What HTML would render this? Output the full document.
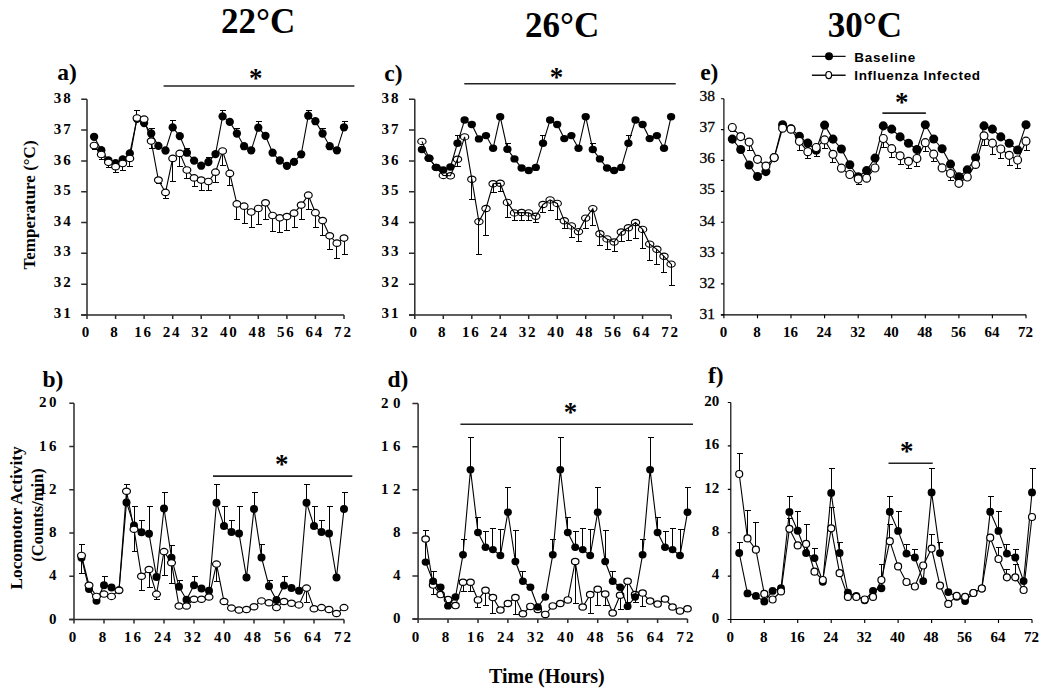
<!DOCTYPE html>
<html><head><meta charset="utf-8"><title>Figure</title>
<style>html,body{margin:0;padding:0;background:#fff;} svg{display:block;}</style></head>
<body><svg width="1050" height="693" viewBox="0 0 1050 693">
<rect width="1050" height="693" fill="#fff"/>
<g stroke="#2b2b2b" stroke-width="1.5" fill="none">
<path d="M87,99.2V315M81.2,315H344"/>
<path d="M81.2,99.2H87M81.2,130H87M81.2,160.9H87M81.2,191.7H87M81.2,222.5H87M81.2,253.3H87M81.2,284.2H87M81.2,315H87M87,315v4M115.6,315v4M144.1,315v4M172.7,315v4M201.2,315v4M229.8,315v4M258.3,315v4M286.9,315v4M315.4,315v4M344,315v4"/>
</g>
<path d="M136.5,118.8V110.5M133.5,110.5H139.5M151.5,133.5V128.5M148.5,128.5H154.5M172.5,127.4V120.5M169.5,120.5H175.5M186.5,152.7V148.5M183.5,148.5H189.5M208.5,162V157.5M205.5,157.5H211.5M222.5,116.4V110.5M219.5,110.5H225.5M236.5,133.5V128.5M233.5,128.5H239.5M258.5,127.7V121.5M255.5,121.5H261.5M308.5,115.7V110.5M305.5,110.5H311.5M322.5,133.5V128.5M319.5,128.5H325.5M344.5,127.3V121.5M341.5,121.5H347.5M94.5,145.5V149.5M91.5,149.5H97.5M101.5,154.5V159.5M98.5,159.5H104.5M108.5,162.3V167.5M105.5,167.5H111.5M115.5,166.7V172.5M112.5,172.5H118.5M122.5,163.5V170.5M119.5,170.5H125.5M129.5,158.4V166.5M126.5,166.5H132.5M151.5,141.1V148.5M148.5,148.5H154.5M158.5,180.1V183.5M155.5,183.5H161.5M165.5,192.4V198.5M162.5,198.5H168.5M172.5,158.4V181.5M169.5,181.5H175.5M179.5,153.4V166.5M176.5,166.5H182.5M186.5,170V178.5M183.5,178.5H189.5M194.5,177.9V186.5M191.5,186.5H197.5M201.5,180.1V190.5M198.5,190.5H204.5M208.5,181.5V190.5M205.5,190.5H211.5M215.5,172.2V182.5M212.5,182.5H218.5M222.5,151V165.5M219.5,165.5H225.5M229.5,173.4V185.5M226.5,185.5H232.5M236.5,203.9V219.5M233.5,219.5H239.5M244.5,206.2V223.5M241.5,223.5H247.5M251.5,212V227.5M248.5,227.5H254.5M258.5,208.5V224.5M255.5,224.5H261.5M265.5,202.8V219.5M262.5,219.5H268.5M272.5,215.5V231.5M269.5,231.5H275.5M279.5,217.8V232.5M276.5,232.5H282.5M286.5,216.6V230.5M283.5,230.5H289.5M294.5,213.2V227.5M291.5,227.5H297.5M301.5,205.1V219.5M298.5,219.5H304.5M308.5,195.2V209.5M305.5,209.5H311.5M315.5,212.7V227.5M312.5,227.5H318.5M322.5,220.6V235.5M319.5,235.5H325.5M329.5,235.8V249.5M326.5,249.5H332.5M336.5,243.2V258.5M333.5,258.5H339.5M344.5,238.1V254.5M341.5,254.5H347.5" stroke="#000" stroke-width="1" fill="none" shape-rendering="crispEdges"/>
<polyline points="94.1,136.8 101.3,150.2 108.4,160.3 115.6,163.2 122.7,159.5 129.8,153.4 137,118.8 144.1,123.1 151.2,133.5 158.4,145.9 165.5,150.5 172.7,127.4 179.8,136.1 186.9,152.7 194.1,160.6 201.2,165.7 208.4,162 215.5,154.1 222.6,116.4 229.8,121.9 236.9,133.5 244.1,146.2 251.2,150.3 258.3,127.7 265.5,135.8 272.6,152.7 279.8,160.5 286.9,165.8 294,161.9 301.2,154.3 308.3,115.7 315.4,121.2 322.6,133.5 329.7,146.2 336.9,150.3 344,127.3" stroke="#000" stroke-width="1.1" fill="none"/>
<g fill="#000"><ellipse cx="94.1" cy="136.8" rx="4.15" ry="4.15"/><ellipse cx="101.3" cy="150.2" rx="4.15" ry="4.15"/><ellipse cx="108.4" cy="160.3" rx="4.15" ry="4.15"/><ellipse cx="115.6" cy="163.2" rx="4.15" ry="4.15"/><ellipse cx="122.7" cy="159.5" rx="4.15" ry="4.15"/><ellipse cx="129.8" cy="153.4" rx="4.15" ry="4.15"/><ellipse cx="137" cy="118.8" rx="4.15" ry="4.15"/><ellipse cx="144.1" cy="123.1" rx="4.15" ry="4.15"/><ellipse cx="151.2" cy="133.5" rx="4.15" ry="4.15"/><ellipse cx="158.4" cy="145.9" rx="4.15" ry="4.15"/><ellipse cx="165.5" cy="150.5" rx="4.15" ry="4.15"/><ellipse cx="172.7" cy="127.4" rx="4.15" ry="4.15"/><ellipse cx="179.8" cy="136.1" rx="4.15" ry="4.15"/><ellipse cx="186.9" cy="152.7" rx="4.15" ry="4.15"/><ellipse cx="194.1" cy="160.6" rx="4.15" ry="4.15"/><ellipse cx="201.2" cy="165.7" rx="4.15" ry="4.15"/><ellipse cx="208.4" cy="162" rx="4.15" ry="4.15"/><ellipse cx="215.5" cy="154.1" rx="4.15" ry="4.15"/><ellipse cx="222.6" cy="116.4" rx="4.15" ry="4.15"/><ellipse cx="229.8" cy="121.9" rx="4.15" ry="4.15"/><ellipse cx="236.9" cy="133.5" rx="4.15" ry="4.15"/><ellipse cx="244.1" cy="146.2" rx="4.15" ry="4.15"/><ellipse cx="251.2" cy="150.3" rx="4.15" ry="4.15"/><ellipse cx="258.3" cy="127.7" rx="4.15" ry="4.15"/><ellipse cx="265.5" cy="135.8" rx="4.15" ry="4.15"/><ellipse cx="272.6" cy="152.7" rx="4.15" ry="4.15"/><ellipse cx="279.8" cy="160.5" rx="4.15" ry="4.15"/><ellipse cx="286.9" cy="165.8" rx="4.15" ry="4.15"/><ellipse cx="294" cy="161.9" rx="4.15" ry="4.15"/><ellipse cx="301.2" cy="154.3" rx="4.15" ry="4.15"/><ellipse cx="308.3" cy="115.7" rx="4.15" ry="4.15"/><ellipse cx="315.4" cy="121.2" rx="4.15" ry="4.15"/><ellipse cx="322.6" cy="133.5" rx="4.15" ry="4.15"/><ellipse cx="329.7" cy="146.2" rx="4.15" ry="4.15"/><ellipse cx="336.9" cy="150.3" rx="4.15" ry="4.15"/><ellipse cx="344" cy="127.3" rx="4.15" ry="4.15"/></g>
<polyline points="94.1,145.5 101.3,154.5 108.4,162.3 115.6,166.7 122.7,163.5 129.8,158.4 137,118 144.1,119.2 151.2,141.1 158.4,180.1 165.5,192.4 172.7,158.4 179.8,153.4 186.9,170 194.1,177.9 201.2,180.1 208.4,181.5 215.5,172.2 222.6,151 229.8,173.4 236.9,203.9 244.1,206.2 251.2,212 258.3,208.5 265.5,202.8 272.6,215.5 279.8,217.8 286.9,216.6 294,213.2 301.2,205.1 308.3,195.2 315.4,212.7 322.6,220.6 329.7,235.8 336.9,243.2 344,238.1" stroke="#000" stroke-width="1.1" fill="none"/>
<g fill="#fff" stroke="#000" stroke-width="1.2"><ellipse cx="94.1" cy="145.5" rx="3.9" ry="3.25"/><ellipse cx="101.3" cy="154.5" rx="3.9" ry="3.25"/><ellipse cx="108.4" cy="162.3" rx="3.9" ry="3.25"/><ellipse cx="115.6" cy="166.7" rx="3.9" ry="3.25"/><ellipse cx="122.7" cy="163.5" rx="3.9" ry="3.25"/><ellipse cx="129.8" cy="158.4" rx="3.9" ry="3.25"/><ellipse cx="137" cy="118" rx="3.9" ry="3.25"/><ellipse cx="144.1" cy="119.2" rx="3.9" ry="3.25"/><ellipse cx="151.2" cy="141.1" rx="3.9" ry="3.25"/><ellipse cx="158.4" cy="180.1" rx="3.9" ry="3.25"/><ellipse cx="165.5" cy="192.4" rx="3.9" ry="3.25"/><ellipse cx="172.7" cy="158.4" rx="3.9" ry="3.25"/><ellipse cx="179.8" cy="153.4" rx="3.9" ry="3.25"/><ellipse cx="186.9" cy="170" rx="3.9" ry="3.25"/><ellipse cx="194.1" cy="177.9" rx="3.9" ry="3.25"/><ellipse cx="201.2" cy="180.1" rx="3.9" ry="3.25"/><ellipse cx="208.4" cy="181.5" rx="3.9" ry="3.25"/><ellipse cx="215.5" cy="172.2" rx="3.9" ry="3.25"/><ellipse cx="222.6" cy="151" rx="3.9" ry="3.25"/><ellipse cx="229.8" cy="173.4" rx="3.9" ry="3.25"/><ellipse cx="236.9" cy="203.9" rx="3.9" ry="3.25"/><ellipse cx="244.1" cy="206.2" rx="3.9" ry="3.25"/><ellipse cx="251.2" cy="212" rx="3.9" ry="3.25"/><ellipse cx="258.3" cy="208.5" rx="3.9" ry="3.25"/><ellipse cx="265.5" cy="202.8" rx="3.9" ry="3.25"/><ellipse cx="272.6" cy="215.5" rx="3.9" ry="3.25"/><ellipse cx="279.8" cy="217.8" rx="3.9" ry="3.25"/><ellipse cx="286.9" cy="216.6" rx="3.9" ry="3.25"/><ellipse cx="294" cy="213.2" rx="3.9" ry="3.25"/><ellipse cx="301.2" cy="205.1" rx="3.9" ry="3.25"/><ellipse cx="308.3" cy="195.2" rx="3.9" ry="3.25"/><ellipse cx="315.4" cy="212.7" rx="3.9" ry="3.25"/><ellipse cx="322.6" cy="220.6" rx="3.9" ry="3.25"/><ellipse cx="329.7" cy="235.8" rx="3.9" ry="3.25"/><ellipse cx="336.9" cy="243.2" rx="3.9" ry="3.25"/><ellipse cx="344" cy="238.1" rx="3.9" ry="3.25"/></g>
<g stroke="#2b2b2b" stroke-width="1.5" fill="none">
<path d="M414.8,99.2V315M409,315H671.1"/>
<path d="M409,99.2H414.8M409,130H414.8M409,160.9H414.8M409,191.7H414.8M409,222.5H414.8M409,253.3H414.8M409,284.2H414.8M409,315H414.8M414.8,315v4M443.3,315v4M471.8,315v4M500.2,315v4M528.7,315v4M557.2,315v4M585.7,315v4M614.1,315v4M642.6,315v4M671.1,315v4"/>
</g>
<path d="M457.5,143.2V135.5M454.5,135.5H460.5M542.5,143.2V135.5M539.5,135.5H545.5M628.5,143.2V135.5M625.5,135.5H631.5M507.5,149.2V143.5M504.5,143.5H510.5M592.5,149.5V143.5M589.5,143.5H595.5M457.5,159.2V166.5M454.5,166.5H460.5M471.5,179.2V199.5M468.5,199.5H474.5M478.5,221.6V254.5M475.5,254.5H481.5M485.5,208.5V235.5M482.5,235.5H488.5M493.5,183.8V192.5M490.5,192.5H496.5M500.5,183.2V191.5M497.5,191.5H503.5M507.5,202.4V217.5M504.5,217.5H510.5M514.5,212.9V220.5M511.5,220.5H517.5M521.5,212.5V220.5M518.5,220.5H524.5M528.5,212.9V220.5M525.5,220.5H531.5M535.5,216.2V222.5M532.5,222.5H538.5M542.5,204.5V212.5M539.5,212.5H545.5M550.5,199.9V210.5M547.5,210.5H553.5M557.5,203.4V219.5M554.5,219.5H560.5M564.5,220.7V228.5M561.5,228.5H567.5M571.5,225.9V237.5M568.5,237.5H574.5M578.5,231.6V241.5M575.5,241.5H581.5M585.5,218.1V228.5M582.5,228.5H588.5M592.5,208.6V225.5M589.5,225.5H595.5M599.5,233.7V245.5M596.5,245.5H602.5M607.5,238.9V249.5M604.5,249.5H610.5M614.5,242V251.5M611.5,251.5H617.5M621.5,232V241.5M618.5,241.5H624.5M628.5,227.7V240.5M625.5,240.5H631.5M635.5,222.5V238.5M632.5,238.5H638.5M642.5,229.4V248.5M639.5,248.5H645.5M649.5,244.1V260.5M646.5,260.5H652.5M656.5,249.3V264.5M653.5,264.5H659.5M663.5,256.3V272.5M660.5,272.5H666.5M671.5,264.1V285.5M668.5,285.5H674.5" stroke="#000" stroke-width="1" fill="none" shape-rendering="crispEdges"/>
<polyline points="421.9,141.4 429,158.3 436.2,167.4 443.3,175.4 450.4,175.8 457.5,159.2 464.6,136.9 471.8,179.2 478.9,221.6 486,208.5 493.1,183.8 500.2,183.2 507.4,202.4 514.5,212.9 521.6,212.5 528.7,212.9 535.8,216.2 543,204.5 550.1,199.9 557.2,203.4 564.3,220.7 571.4,225.9 578.5,231.6 585.7,218.1 592.8,208.6 599.9,233.7 607,238.9 614.1,242 621.3,232 628.4,227.7 635.5,222.5 642.6,229.4 649.7,244.1 656.9,249.3 664,256.3 671.1,264.1" stroke="#000" stroke-width="1.1" fill="none"/>
<g fill="none" stroke="#000" stroke-width="1.15"><ellipse cx="421.9" cy="141.4" rx="4.15" ry="3.15"/><ellipse cx="429" cy="158.3" rx="4.15" ry="3.15"/><ellipse cx="436.2" cy="167.4" rx="4.15" ry="3.15"/><ellipse cx="443.3" cy="175.4" rx="4.15" ry="3.15"/><ellipse cx="450.4" cy="175.8" rx="4.15" ry="3.15"/><ellipse cx="457.5" cy="159.2" rx="4.15" ry="3.15"/><ellipse cx="464.6" cy="136.9" rx="4.15" ry="3.15"/><ellipse cx="471.8" cy="179.2" rx="4.15" ry="3.15"/><ellipse cx="478.9" cy="221.6" rx="4.15" ry="3.15"/><ellipse cx="486" cy="208.5" rx="4.15" ry="3.15"/><ellipse cx="493.1" cy="183.8" rx="4.15" ry="3.15"/><ellipse cx="500.2" cy="183.2" rx="4.15" ry="3.15"/><ellipse cx="507.4" cy="202.4" rx="4.15" ry="3.15"/><ellipse cx="514.5" cy="212.9" rx="4.15" ry="3.15"/><ellipse cx="521.6" cy="212.5" rx="4.15" ry="3.15"/><ellipse cx="528.7" cy="212.9" rx="4.15" ry="3.15"/><ellipse cx="535.8" cy="216.2" rx="4.15" ry="3.15"/><ellipse cx="543" cy="204.5" rx="4.15" ry="3.15"/><ellipse cx="550.1" cy="199.9" rx="4.15" ry="3.15"/><ellipse cx="557.2" cy="203.4" rx="4.15" ry="3.15"/><ellipse cx="564.3" cy="220.7" rx="4.15" ry="3.15"/><ellipse cx="571.4" cy="225.9" rx="4.15" ry="3.15"/><ellipse cx="578.5" cy="231.6" rx="4.15" ry="3.15"/><ellipse cx="585.7" cy="218.1" rx="4.15" ry="3.15"/><ellipse cx="592.8" cy="208.6" rx="4.15" ry="3.15"/><ellipse cx="599.9" cy="233.7" rx="4.15" ry="3.15"/><ellipse cx="607" cy="238.9" rx="4.15" ry="3.15"/><ellipse cx="614.1" cy="242" rx="4.15" ry="3.15"/><ellipse cx="621.3" cy="232" rx="4.15" ry="3.15"/><ellipse cx="628.4" cy="227.7" rx="4.15" ry="3.15"/><ellipse cx="635.5" cy="222.5" rx="4.15" ry="3.15"/><ellipse cx="642.6" cy="229.4" rx="4.15" ry="3.15"/><ellipse cx="649.7" cy="244.1" rx="4.15" ry="3.15"/><ellipse cx="656.9" cy="249.3" rx="4.15" ry="3.15"/><ellipse cx="664" cy="256.3" rx="4.15" ry="3.15"/><ellipse cx="671.1" cy="264.1" rx="4.15" ry="3.15"/></g>
<polyline points="421.9,149.5 429,158.3 436.2,167.4 443.3,170 450.4,167 457.5,143.2 464.6,120 471.8,124.5 478.9,138.9 486,135.6 493.1,148.3 500.2,116.7 507.4,149.2 514.5,158.9 521.6,168 528.7,170.5 535.8,167.4 543,143.2 550.1,120 557.2,124.5 564.3,138.6 571.4,135.6 578.5,148.3 585.7,116.7 592.8,149.5 599.9,158.9 607,168 614.1,170.5 621.3,167.4 628.4,143.2 635.5,120 642.6,124.5 649.7,138.6 656.9,135.6 664,148.3 671.1,116.7" stroke="#000" stroke-width="1.1" fill="none"/>
<g fill="#000"><ellipse cx="421.9" cy="149.5" rx="4.15" ry="3.7"/><ellipse cx="429" cy="158.3" rx="4.15" ry="3.7"/><ellipse cx="436.2" cy="167.4" rx="4.15" ry="3.7"/><ellipse cx="443.3" cy="170" rx="4.15" ry="3.7"/><ellipse cx="450.4" cy="167" rx="4.15" ry="3.7"/><ellipse cx="457.5" cy="143.2" rx="4.15" ry="3.7"/><ellipse cx="464.6" cy="120" rx="4.15" ry="3.7"/><ellipse cx="471.8" cy="124.5" rx="4.15" ry="3.7"/><ellipse cx="478.9" cy="138.9" rx="4.15" ry="3.7"/><ellipse cx="486" cy="135.6" rx="4.15" ry="3.7"/><ellipse cx="493.1" cy="148.3" rx="4.15" ry="3.7"/><ellipse cx="500.2" cy="116.7" rx="4.15" ry="3.7"/><ellipse cx="507.4" cy="149.2" rx="4.15" ry="3.7"/><ellipse cx="514.5" cy="158.9" rx="4.15" ry="3.7"/><ellipse cx="521.6" cy="168" rx="4.15" ry="3.7"/><ellipse cx="528.7" cy="170.5" rx="4.15" ry="3.7"/><ellipse cx="535.8" cy="167.4" rx="4.15" ry="3.7"/><ellipse cx="543" cy="143.2" rx="4.15" ry="3.7"/><ellipse cx="550.1" cy="120" rx="4.15" ry="3.7"/><ellipse cx="557.2" cy="124.5" rx="4.15" ry="3.7"/><ellipse cx="564.3" cy="138.6" rx="4.15" ry="3.7"/><ellipse cx="571.4" cy="135.6" rx="4.15" ry="3.7"/><ellipse cx="578.5" cy="148.3" rx="4.15" ry="3.7"/><ellipse cx="585.7" cy="116.7" rx="4.15" ry="3.7"/><ellipse cx="592.8" cy="149.5" rx="4.15" ry="3.7"/><ellipse cx="599.9" cy="158.9" rx="4.15" ry="3.7"/><ellipse cx="607" cy="168" rx="4.15" ry="3.7"/><ellipse cx="614.1" cy="170.5" rx="4.15" ry="3.7"/><ellipse cx="621.3" cy="167.4" rx="4.15" ry="3.7"/><ellipse cx="628.4" cy="143.2" rx="4.15" ry="3.7"/><ellipse cx="635.5" cy="120" rx="4.15" ry="3.7"/><ellipse cx="642.6" cy="124.5" rx="4.15" ry="3.7"/><ellipse cx="649.7" cy="138.6" rx="4.15" ry="3.7"/><ellipse cx="656.9" cy="135.6" rx="4.15" ry="3.7"/><ellipse cx="664" cy="148.3" rx="4.15" ry="3.7"/><ellipse cx="671.1" cy="116.7" rx="4.15" ry="3.7"/></g>
<g stroke="#000" stroke-width="1.15" fill="none">
<path d="M723.9,98.7V314.8M720.9,314.8H1026"/>
<path d="M720.9,98.7H723.9M720.9,129.6H723.9M720.9,160.4H723.9M720.9,191.3H723.9M720.9,222.2H723.9M720.9,253.1H723.9M720.9,283.9H723.9M720.9,314.8H723.9M723.9,314.8v3.5M757.5,314.8v3.5M791,314.8v3.5M824.6,314.8v3.5M858.2,314.8v3.5M891.7,314.8v3.5M925.3,314.8v3.5M958.9,314.8v3.5M992.4,314.8v3.5M1026,314.8v3.5"/>
</g>
<path d="M732.5,127.5V131.5M729.5,131.5H735.5M749.5,142.1V150.5M746.5,150.5H752.5M799.5,141.3V150.5M796.5,150.5H802.5M807.5,151.7V158.5M804.5,158.5H810.5M816.5,147.5V156.5M813.5,156.5H819.5M824.5,139.9V148.5M821.5,148.5H827.5M832.5,154.3V162.5M829.5,162.5H835.5M858.5,179V184.5M855.5,184.5H861.5M883.5,138.5V147.5M880.5,147.5H886.5M891.5,148.7V157.5M888.5,157.5H894.5M900.5,155.8V164.5M897.5,164.5H903.5M908.5,161.3V168.5M905.5,168.5H911.5M916.5,158.5V166.5M913.5,166.5H919.5M925.5,142.7V151.5M922.5,151.5H928.5M933.5,154.2V161.5M930.5,161.5H936.5M950.5,173.5V180.5M947.5,180.5H953.5M984.5,135.8V145.5M981.5,145.5H987.5M992.5,143.2V154.5M989.5,154.5H995.5M1000.5,149V158.5M997.5,158.5H1003.5M1009.5,155.3V165.5M1006.5,165.5H1012.5M1017.5,160V168.5M1014.5,168.5H1020.5M1026.5,141.2V150.5M1023.5,150.5H1029.5" stroke="#000" stroke-width="1" fill="none" shape-rendering="crispEdges"/>
<polyline points="732.3,139.1 740.7,149.5 749.1,165 757.5,176.5 765.9,171.6 774.2,157.6 782.6,124.8 791,128.8 799.4,136.2 807.8,143.1 816.2,150.2 824.6,125.1 833,139.1 841.4,149 849.8,164.7 858.2,176.8 866.6,170.6 875,158.1 883.3,125.9 891.7,129.1 900.1,136.9 908.5,143.2 916.9,149.5 925.3,124.8 933.7,139 942.1,148.7 950.5,164.1 958.9,176.7 967.3,169.9 975.6,157.8 984,125.9 992.4,129.1 1000.8,136.9 1009.2,143.2 1017.6,150 1026,124.8" stroke="#000" stroke-width="1.1" fill="none"/>
<g fill="#000"><ellipse cx="732.3" cy="139.1" rx="4.55" ry="4.55"/><ellipse cx="740.7" cy="149.5" rx="4.55" ry="4.55"/><ellipse cx="749.1" cy="165" rx="4.55" ry="4.55"/><ellipse cx="757.5" cy="176.5" rx="4.55" ry="4.55"/><ellipse cx="765.9" cy="171.6" rx="4.55" ry="4.55"/><ellipse cx="774.2" cy="157.6" rx="4.55" ry="4.55"/><ellipse cx="782.6" cy="124.8" rx="4.55" ry="4.55"/><ellipse cx="791" cy="128.8" rx="4.55" ry="4.55"/><ellipse cx="799.4" cy="136.2" rx="4.55" ry="4.55"/><ellipse cx="807.8" cy="143.1" rx="4.55" ry="4.55"/><ellipse cx="816.2" cy="150.2" rx="4.55" ry="4.55"/><ellipse cx="824.6" cy="125.1" rx="4.55" ry="4.55"/><ellipse cx="833" cy="139.1" rx="4.55" ry="4.55"/><ellipse cx="841.4" cy="149" rx="4.55" ry="4.55"/><ellipse cx="849.8" cy="164.7" rx="4.55" ry="4.55"/><ellipse cx="858.2" cy="176.8" rx="4.55" ry="4.55"/><ellipse cx="866.6" cy="170.6" rx="4.55" ry="4.55"/><ellipse cx="875" cy="158.1" rx="4.55" ry="4.55"/><ellipse cx="883.3" cy="125.9" rx="4.55" ry="4.55"/><ellipse cx="891.7" cy="129.1" rx="4.55" ry="4.55"/><ellipse cx="900.1" cy="136.9" rx="4.55" ry="4.55"/><ellipse cx="908.5" cy="143.2" rx="4.55" ry="4.55"/><ellipse cx="916.9" cy="149.5" rx="4.55" ry="4.55"/><ellipse cx="925.3" cy="124.8" rx="4.55" ry="4.55"/><ellipse cx="933.7" cy="139" rx="4.55" ry="4.55"/><ellipse cx="942.1" cy="148.7" rx="4.55" ry="4.55"/><ellipse cx="950.5" cy="164.1" rx="4.55" ry="4.55"/><ellipse cx="958.9" cy="176.7" rx="4.55" ry="4.55"/><ellipse cx="967.3" cy="169.9" rx="4.55" ry="4.55"/><ellipse cx="975.6" cy="157.8" rx="4.55" ry="4.55"/><ellipse cx="984" cy="125.9" rx="4.55" ry="4.55"/><ellipse cx="992.4" cy="129.1" rx="4.55" ry="4.55"/><ellipse cx="1000.8" cy="136.9" rx="4.55" ry="4.55"/><ellipse cx="1009.2" cy="143.2" rx="4.55" ry="4.55"/><ellipse cx="1017.6" cy="150" rx="4.55" ry="4.55"/><ellipse cx="1026" cy="124.8" rx="4.55" ry="4.55"/></g>
<polyline points="732.3,127.5 740.7,136.6 749.1,142.1 757.5,159.3 765.9,166.1 774.2,157.6 782.6,128.2 791,129.2 799.4,141.3 807.8,151.7 816.2,147.5 824.6,139.9 833,154.3 841.4,168.2 849.8,174.5 858.2,179 866.6,178.2 875,168 883.3,138.5 891.7,148.7 900.1,155.8 908.5,161.3 916.9,158.5 925.3,142.7 933.7,154.2 942.1,167.9 950.5,173.5 958.9,183.3 967.3,177 975.6,164.4 984,135.8 992.4,143.2 1000.8,149 1009.2,155.3 1017.6,160 1026,141.2" stroke="#000" stroke-width="1.1" fill="none"/>
<g fill="#fff" stroke="#000" stroke-width="1.2"><ellipse cx="732.3" cy="127.5" rx="3.95" ry="4.0"/><ellipse cx="740.7" cy="136.6" rx="3.95" ry="4.0"/><ellipse cx="749.1" cy="142.1" rx="3.95" ry="4.0"/><ellipse cx="757.5" cy="159.3" rx="3.95" ry="4.0"/><ellipse cx="765.9" cy="166.1" rx="3.95" ry="4.0"/><ellipse cx="774.2" cy="157.6" rx="3.95" ry="4.0"/><ellipse cx="782.6" cy="128.2" rx="3.95" ry="4.0"/><ellipse cx="791" cy="129.2" rx="3.95" ry="4.0"/><ellipse cx="799.4" cy="141.3" rx="3.95" ry="4.0"/><ellipse cx="807.8" cy="151.7" rx="3.95" ry="4.0"/><ellipse cx="816.2" cy="147.5" rx="3.95" ry="4.0"/><ellipse cx="824.6" cy="139.9" rx="3.95" ry="4.0"/><ellipse cx="833" cy="154.3" rx="3.95" ry="4.0"/><ellipse cx="841.4" cy="168.2" rx="3.95" ry="4.0"/><ellipse cx="849.8" cy="174.5" rx="3.95" ry="4.0"/><ellipse cx="858.2" cy="179" rx="3.95" ry="4.0"/><ellipse cx="866.6" cy="178.2" rx="3.95" ry="4.0"/><ellipse cx="875" cy="168" rx="3.95" ry="4.0"/><ellipse cx="883.3" cy="138.5" rx="3.95" ry="4.0"/><ellipse cx="891.7" cy="148.7" rx="3.95" ry="4.0"/><ellipse cx="900.1" cy="155.8" rx="3.95" ry="4.0"/><ellipse cx="908.5" cy="161.3" rx="3.95" ry="4.0"/><ellipse cx="916.9" cy="158.5" rx="3.95" ry="4.0"/><ellipse cx="925.3" cy="142.7" rx="3.95" ry="4.0"/><ellipse cx="933.7" cy="154.2" rx="3.95" ry="4.0"/><ellipse cx="942.1" cy="167.9" rx="3.95" ry="4.0"/><ellipse cx="950.5" cy="173.5" rx="3.95" ry="4.0"/><ellipse cx="958.9" cy="183.3" rx="3.95" ry="4.0"/><ellipse cx="967.3" cy="177" rx="3.95" ry="4.0"/><ellipse cx="975.6" cy="164.4" rx="3.95" ry="4.0"/><ellipse cx="984" cy="135.8" rx="3.95" ry="4.0"/><ellipse cx="992.4" cy="143.2" rx="3.95" ry="4.0"/><ellipse cx="1000.8" cy="149" rx="3.95" ry="4.0"/><ellipse cx="1009.2" cy="155.3" rx="3.95" ry="4.0"/><ellipse cx="1017.6" cy="160" rx="3.95" ry="4.0"/><ellipse cx="1026" cy="141.2" rx="3.95" ry="4.0"/></g>
<g stroke="#2b2b2b" stroke-width="1.5" fill="none">
<path d="M74,403.3V619.5M69.3,619.5H344"/>
<path d="M69.3,403.3H74M69.3,446.5H74M69.3,489.8H74M69.3,533H74M69.3,576.3H74M69.3,619.5H74M74,619.5v4M104,619.5v4M134,619.5v4M164,619.5v4M194,619.5v4M224,619.5v4M254,619.5v4M284,619.5v4M314,619.5v4M344,619.5v4"/>
</g>
<path d="M81.5,557.7V544.5M78.5,544.5H84.5M104.5,585.2V576.5M101.5,576.5H107.5M126.5,502.4V484.5M123.5,484.5H129.5M134.5,525.5V506.5M131.5,506.5H137.5M141.5,532.2V520.5M138.5,520.5H144.5M149.5,533.7V506.5M146.5,506.5H152.5M164.5,508.5V492.5M161.5,492.5H167.5M171.5,557.7V545.5M168.5,545.5H174.5M179.5,586.8V580.5M176.5,580.5H182.5M194.5,585.2V576.5M191.5,576.5H197.5M216.5,502.7V484.5M213.5,484.5H219.5M224.5,525.9V506.5M221.5,506.5H227.5M231.5,532.1V520.5M228.5,520.5H234.5M239.5,533.4V506.5M236.5,506.5H242.5M254.5,508.9V492.5M251.5,492.5H257.5M261.5,557.4V544.5M258.5,544.5H264.5M269.5,586.2V580.5M266.5,580.5H272.5M284.5,585.4V576.5M281.5,576.5H287.5M306.5,502.7V484.5M303.5,484.5H309.5M314.5,525.9V506.5M311.5,506.5H317.5M321.5,532.1V520.5M318.5,520.5H324.5M329.5,533.4V506.5M326.5,506.5H332.5M344.5,508.9V492.5M341.5,492.5H347.5M81.5,555.4V573.5M78.5,573.5H84.5M134.5,529.3V551.5M131.5,551.5H137.5M141.5,576.2V590.5M138.5,590.5H144.5M149.5,569.5V587.5M146.5,587.5H152.5M156.5,594.1V599.5M153.5,599.5H159.5M164.5,551.6V575.5M161.5,575.5H167.5M171.5,562.8V583.5M168.5,583.5H174.5M216.5,564.1V581.5M213.5,581.5H219.5M306.5,588.1V602.5M303.5,602.5H309.5" stroke="#000" stroke-width="1" fill="none" shape-rendering="crispEdges"/>
<polyline points="81.5,557.7 89,589 96.5,600.8 104,585.2 111.5,587.4 119,590.3 126.5,502.4 134,525.5 141.5,532.2 149,533.7 156.5,576.9 164,508.5 171.5,557.7 179,586.8 186.5,599.7 194,585.2 201.5,588.5 209,590.8 216.5,502.7 224,525.9 231.5,532.1 239,533.4 246.5,577.4 254,508.9 261.5,557.4 269,586.2 276.5,600.1 284,585.4 291.5,588.1 299,590.8 306.5,502.7 314,525.9 321.5,532.1 329,533.4 336.5,577.4 344,508.9" stroke="#000" stroke-width="1.1" fill="none"/>
<g fill="#000"><ellipse cx="81.5" cy="557.7" rx="4.0" ry="4.0"/><ellipse cx="89" cy="589" rx="4.0" ry="4.0"/><ellipse cx="96.5" cy="600.8" rx="4.0" ry="4.0"/><ellipse cx="104" cy="585.2" rx="4.0" ry="4.0"/><ellipse cx="111.5" cy="587.4" rx="4.0" ry="4.0"/><ellipse cx="119" cy="590.3" rx="4.0" ry="4.0"/><ellipse cx="126.5" cy="502.4" rx="4.0" ry="4.0"/><ellipse cx="134" cy="525.5" rx="4.0" ry="4.0"/><ellipse cx="141.5" cy="532.2" rx="4.0" ry="4.0"/><ellipse cx="149" cy="533.7" rx="4.0" ry="4.0"/><ellipse cx="156.5" cy="576.9" rx="4.0" ry="4.0"/><ellipse cx="164" cy="508.5" rx="4.0" ry="4.0"/><ellipse cx="171.5" cy="557.7" rx="4.0" ry="4.0"/><ellipse cx="179" cy="586.8" rx="4.0" ry="4.0"/><ellipse cx="186.5" cy="599.7" rx="4.0" ry="4.0"/><ellipse cx="194" cy="585.2" rx="4.0" ry="4.0"/><ellipse cx="201.5" cy="588.5" rx="4.0" ry="4.0"/><ellipse cx="209" cy="590.8" rx="4.0" ry="4.0"/><ellipse cx="216.5" cy="502.7" rx="4.0" ry="4.0"/><ellipse cx="224" cy="525.9" rx="4.0" ry="4.0"/><ellipse cx="231.5" cy="532.1" rx="4.0" ry="4.0"/><ellipse cx="239" cy="533.4" rx="4.0" ry="4.0"/><ellipse cx="246.5" cy="577.4" rx="4.0" ry="4.0"/><ellipse cx="254" cy="508.9" rx="4.0" ry="4.0"/><ellipse cx="261.5" cy="557.4" rx="4.0" ry="4.0"/><ellipse cx="269" cy="586.2" rx="4.0" ry="4.0"/><ellipse cx="276.5" cy="600.1" rx="4.0" ry="4.0"/><ellipse cx="284" cy="585.4" rx="4.0" ry="4.0"/><ellipse cx="291.5" cy="588.1" rx="4.0" ry="4.0"/><ellipse cx="299" cy="590.8" rx="4.0" ry="4.0"/><ellipse cx="306.5" cy="502.7" rx="4.0" ry="4.0"/><ellipse cx="314" cy="525.9" rx="4.0" ry="4.0"/><ellipse cx="321.5" cy="532.1" rx="4.0" ry="4.0"/><ellipse cx="329" cy="533.4" rx="4.0" ry="4.0"/><ellipse cx="336.5" cy="577.4" rx="4.0" ry="4.0"/><ellipse cx="344" cy="508.9" rx="4.0" ry="4.0"/></g>
<polyline points="81.5,555.4 89,585.2 96.5,596.4 104,594.1 111.5,596.4 119,590.3 126.5,491.2 134,529.3 141.5,576.2 149,569.5 156.5,594.1 164,551.6 171.5,562.8 179,606 186.5,606 194,599.3 201.5,599.3 209,597 216.5,564.1 224,601.5 231.5,608.1 239,610 246.5,609.5 254,606.8 261.5,600.9 269,602.8 276.5,607.6 284,601.5 291.5,603.3 299,604.9 306.5,588.1 314,608.7 321.5,607.6 329,609.5 336.5,613.5 344,607.6" stroke="#000" stroke-width="1.1" fill="none"/>
<g fill="#fff" stroke="#000" stroke-width="1.2"><ellipse cx="81.5" cy="555.4" rx="3.95" ry="3.15"/><ellipse cx="89" cy="585.2" rx="3.95" ry="3.15"/><ellipse cx="96.5" cy="596.4" rx="3.95" ry="3.15"/><ellipse cx="104" cy="594.1" rx="3.95" ry="3.15"/><ellipse cx="111.5" cy="596.4" rx="3.95" ry="3.15"/><ellipse cx="119" cy="590.3" rx="3.95" ry="3.15"/><ellipse cx="126.5" cy="491.2" rx="3.95" ry="3.15"/><ellipse cx="134" cy="529.3" rx="3.95" ry="3.15"/><ellipse cx="141.5" cy="576.2" rx="3.95" ry="3.15"/><ellipse cx="149" cy="569.5" rx="3.95" ry="3.15"/><ellipse cx="156.5" cy="594.1" rx="3.95" ry="3.15"/><ellipse cx="164" cy="551.6" rx="3.95" ry="3.15"/><ellipse cx="171.5" cy="562.8" rx="3.95" ry="3.15"/><ellipse cx="179" cy="606" rx="3.95" ry="3.15"/><ellipse cx="186.5" cy="606" rx="3.95" ry="3.15"/><ellipse cx="194" cy="599.3" rx="3.95" ry="3.15"/><ellipse cx="201.5" cy="599.3" rx="3.95" ry="3.15"/><ellipse cx="209" cy="597" rx="3.95" ry="3.15"/><ellipse cx="216.5" cy="564.1" rx="3.95" ry="3.15"/><ellipse cx="224" cy="601.5" rx="3.95" ry="3.15"/><ellipse cx="231.5" cy="608.1" rx="3.95" ry="3.15"/><ellipse cx="239" cy="610" rx="3.95" ry="3.15"/><ellipse cx="246.5" cy="609.5" rx="3.95" ry="3.15"/><ellipse cx="254" cy="606.8" rx="3.95" ry="3.15"/><ellipse cx="261.5" cy="600.9" rx="3.95" ry="3.15"/><ellipse cx="269" cy="602.8" rx="3.95" ry="3.15"/><ellipse cx="276.5" cy="607.6" rx="3.95" ry="3.15"/><ellipse cx="284" cy="601.5" rx="3.95" ry="3.15"/><ellipse cx="291.5" cy="603.3" rx="3.95" ry="3.15"/><ellipse cx="299" cy="604.9" rx="3.95" ry="3.15"/><ellipse cx="306.5" cy="588.1" rx="3.95" ry="3.15"/><ellipse cx="314" cy="608.7" rx="3.95" ry="3.15"/><ellipse cx="321.5" cy="607.6" rx="3.95" ry="3.15"/><ellipse cx="329" cy="609.5" rx="3.95" ry="3.15"/><ellipse cx="336.5" cy="613.5" rx="3.95" ry="3.15"/><ellipse cx="344" cy="607.6" rx="3.95" ry="3.15"/></g>
<g stroke="#2b2b2b" stroke-width="1.5" fill="none">
<path d="M418.1,403.6V619.1M412.4,619.1H687.5"/>
<path d="M412.4,403.6H418.1M412.4,446.7H418.1M412.4,489.8H418.1M412.4,532.9H418.1M412.4,576H418.1M412.4,619.1H418.1M418.1,619.1v4M448,619.1v4M478,619.1v4M507.9,619.1v4M537.8,619.1v4M567.8,619.1v4M597.7,619.1v4M627.6,619.1v4M657.6,619.1v4M687.5,619.1v4"/>
</g>
<path d="M425.5,562.1V530.5M422.5,530.5H428.5M433.5,581.3V571.5M430.5,571.5H436.5M463.5,554.7V539.5M460.5,539.5H466.5M470.5,469.7V437.5M467.5,437.5H473.5M477.5,532.5V517.5M474.5,517.5H480.5M485.5,547.3V531.5M482.5,531.5H488.5M492.5,549.6V528.5M489.5,528.5H495.5M500.5,555.5V529.5M497.5,529.5H503.5M507.5,512.3V487.5M504.5,487.5H510.5M515.5,561.5V530.5M512.5,530.5H518.5M522.5,581.3V571.5M519.5,571.5H525.5M552.5,554.7V539.5M549.5,539.5H555.5M560.5,469.7V437.5M557.5,437.5H563.5M567.5,532.5V517.5M564.5,517.5H570.5M575.5,547.3V531.5M572.5,531.5H578.5M582.5,549.6V528.5M579.5,528.5H585.5M590.5,555.5V529.5M587.5,529.5H593.5M597.5,512.3V487.5M594.5,487.5H600.5M605.5,561.5V530.5M602.5,530.5H608.5M612.5,581.3V571.5M609.5,571.5H615.5M642.5,554.7V539.5M639.5,539.5H645.5M650.5,469.7V437.5M647.5,437.5H653.5M657.5,532.5V517.5M654.5,517.5H660.5M665.5,547.3V531.5M662.5,531.5H668.5M672.5,549.6V528.5M669.5,528.5H675.5M680.5,555.5V529.5M677.5,529.5H683.5M687.5,512.3V487.5M684.5,487.5H690.5M433.5,585.1V594.5M430.5,594.5H436.5M463.5,582.2V591.5M460.5,591.5H466.5M470.5,582.2V591.5M467.5,591.5H473.5M477.5,599.9V607.5M474.5,607.5H480.5M485.5,590.2V605.5M482.5,605.5H488.5M492.5,597.6V613.5M489.5,613.5H495.5M515.5,597.6V614.5M512.5,614.5H518.5M575.5,561.5V603.5M572.5,603.5H578.5M590.5,594.6V613.5M587.5,613.5H593.5M597.5,589.3V605.5M594.5,605.5H600.5M605.5,594V605.5M602.5,605.5H608.5M620.5,595.2V609.5M617.5,609.5H623.5M627.5,581.3V602.5M624.5,602.5H630.5M635.5,594.6V602.5M632.5,602.5H638.5M642.5,593.1V606.5M639.5,606.5H645.5" stroke="#000" stroke-width="1" fill="none" shape-rendering="crispEdges"/>
<polyline points="425.6,539 433.1,585.1 440.6,594.6 448,599.6 455.5,605.6 463,582.2 470.5,582.2 478,599.9 485.5,590.2 492.9,597.6 500.4,610 507.9,603.5 515.4,597.6 522.9,613.8 530.4,606.4 537.8,609.4 545.3,614.4 552.8,605.9 560.3,603.5 567.8,599.9 575.2,561.5 582.7,607 590.2,594.6 597.7,589.3 605.2,594 612.7,613 620.1,595.2 627.6,581.3 635.1,594.6 642.6,593.1 650.1,601.1 657.6,604.1 665,599 672.5,607 680,610.9 687.5,608.8" stroke="#000" stroke-width="1.1" fill="none"/>
<g fill="#fff" stroke="#000" stroke-width="1.2"><ellipse cx="425.6" cy="539" rx="3.75" ry="3.15"/><ellipse cx="433.1" cy="585.1" rx="3.75" ry="3.15"/><ellipse cx="440.6" cy="594.6" rx="3.75" ry="3.15"/><ellipse cx="448" cy="599.6" rx="3.75" ry="3.15"/><ellipse cx="455.5" cy="605.6" rx="3.75" ry="3.15"/><ellipse cx="463" cy="582.2" rx="3.75" ry="3.15"/><ellipse cx="470.5" cy="582.2" rx="3.75" ry="3.15"/><ellipse cx="478" cy="599.9" rx="3.75" ry="3.15"/><ellipse cx="485.5" cy="590.2" rx="3.75" ry="3.15"/><ellipse cx="492.9" cy="597.6" rx="3.75" ry="3.15"/><ellipse cx="500.4" cy="610" rx="3.75" ry="3.15"/><ellipse cx="507.9" cy="603.5" rx="3.75" ry="3.15"/><ellipse cx="515.4" cy="597.6" rx="3.75" ry="3.15"/><ellipse cx="522.9" cy="613.8" rx="3.75" ry="3.15"/><ellipse cx="530.4" cy="606.4" rx="3.75" ry="3.15"/><ellipse cx="537.8" cy="609.4" rx="3.75" ry="3.15"/><ellipse cx="545.3" cy="614.4" rx="3.75" ry="3.15"/><ellipse cx="552.8" cy="605.9" rx="3.75" ry="3.15"/><ellipse cx="560.3" cy="603.5" rx="3.75" ry="3.15"/><ellipse cx="567.8" cy="599.9" rx="3.75" ry="3.15"/><ellipse cx="575.2" cy="561.5" rx="3.75" ry="3.15"/><ellipse cx="582.7" cy="607" rx="3.75" ry="3.15"/><ellipse cx="590.2" cy="594.6" rx="3.75" ry="3.15"/><ellipse cx="597.7" cy="589.3" rx="3.75" ry="3.15"/><ellipse cx="605.2" cy="594" rx="3.75" ry="3.15"/><ellipse cx="612.7" cy="613" rx="3.75" ry="3.15"/><ellipse cx="620.1" cy="595.2" rx="3.75" ry="3.15"/><ellipse cx="627.6" cy="581.3" rx="3.75" ry="3.15"/><ellipse cx="635.1" cy="594.6" rx="3.75" ry="3.15"/><ellipse cx="642.6" cy="593.1" rx="3.75" ry="3.15"/><ellipse cx="650.1" cy="601.1" rx="3.75" ry="3.15"/><ellipse cx="657.6" cy="604.1" rx="3.75" ry="3.15"/><ellipse cx="665" cy="599" rx="3.75" ry="3.15"/><ellipse cx="672.5" cy="607" rx="3.75" ry="3.15"/><ellipse cx="680" cy="610.9" rx="3.75" ry="3.15"/><ellipse cx="687.5" cy="608.8" rx="3.75" ry="3.15"/></g>
<polyline points="425.6,562.1 433.1,581.3 440.6,587.2 448,605.9 455.5,597 463,554.7 470.5,469.7 478,532.5 485.5,547.3 492.9,549.6 500.4,555.5 507.9,512.3 515.4,561.5 522.9,581.3 530.4,587.2 537.8,607 545.3,597 552.8,554.7 560.3,469.7 567.8,532.5 575.2,547.3 582.7,549.6 590.2,555.5 597.7,512.3 605.2,561.5 612.7,581.3 620.1,587.2 627.6,606.4 635.1,597 642.6,554.7 650.1,469.7 657.6,532.5 665,547.3 672.5,549.6 680,555.5 687.5,512.3" stroke="#000" stroke-width="1.1" fill="none"/>
<g fill="#000"><ellipse cx="425.6" cy="562.1" rx="3.95" ry="3.7"/><ellipse cx="433.1" cy="581.3" rx="3.95" ry="3.7"/><ellipse cx="440.6" cy="587.2" rx="3.95" ry="3.7"/><ellipse cx="448" cy="605.9" rx="3.95" ry="3.7"/><ellipse cx="455.5" cy="597" rx="3.95" ry="3.7"/><ellipse cx="463" cy="554.7" rx="3.95" ry="3.7"/><ellipse cx="470.5" cy="469.7" rx="3.95" ry="3.7"/><ellipse cx="478" cy="532.5" rx="3.95" ry="3.7"/><ellipse cx="485.5" cy="547.3" rx="3.95" ry="3.7"/><ellipse cx="492.9" cy="549.6" rx="3.95" ry="3.7"/><ellipse cx="500.4" cy="555.5" rx="3.95" ry="3.7"/><ellipse cx="507.9" cy="512.3" rx="3.95" ry="3.7"/><ellipse cx="515.4" cy="561.5" rx="3.95" ry="3.7"/><ellipse cx="522.9" cy="581.3" rx="3.95" ry="3.7"/><ellipse cx="530.4" cy="587.2" rx="3.95" ry="3.7"/><ellipse cx="537.8" cy="607" rx="3.95" ry="3.7"/><ellipse cx="545.3" cy="597" rx="3.95" ry="3.7"/><ellipse cx="552.8" cy="554.7" rx="3.95" ry="3.7"/><ellipse cx="560.3" cy="469.7" rx="3.95" ry="3.7"/><ellipse cx="567.8" cy="532.5" rx="3.95" ry="3.7"/><ellipse cx="575.2" cy="547.3" rx="3.95" ry="3.7"/><ellipse cx="582.7" cy="549.6" rx="3.95" ry="3.7"/><ellipse cx="590.2" cy="555.5" rx="3.95" ry="3.7"/><ellipse cx="597.7" cy="512.3" rx="3.95" ry="3.7"/><ellipse cx="605.2" cy="561.5" rx="3.95" ry="3.7"/><ellipse cx="612.7" cy="581.3" rx="3.95" ry="3.7"/><ellipse cx="620.1" cy="587.2" rx="3.95" ry="3.7"/><ellipse cx="627.6" cy="606.4" rx="3.95" ry="3.7"/><ellipse cx="635.1" cy="597" rx="3.95" ry="3.7"/><ellipse cx="642.6" cy="554.7" rx="3.95" ry="3.7"/><ellipse cx="650.1" cy="469.7" rx="3.95" ry="3.7"/><ellipse cx="657.6" cy="532.5" rx="3.95" ry="3.7"/><ellipse cx="665" cy="547.3" rx="3.95" ry="3.7"/><ellipse cx="672.5" cy="549.6" rx="3.95" ry="3.7"/><ellipse cx="680" cy="555.5" rx="3.95" ry="3.7"/><ellipse cx="687.5" cy="512.3" rx="3.95" ry="3.7"/></g>
<g stroke="#000" stroke-width="1.15" fill="none">
<path d="M730.8,402.5V619.5M727.8,619.5H1032"/>
<path d="M727.8,402.5H730.8M727.8,445.9H730.8M727.8,489.3H730.8M727.8,532.7H730.8M727.8,576.1H730.8M727.8,619.5H730.8M730.8,619.5v3.5M764.3,619.5v3.5M797.7,619.5v3.5M831.2,619.5v3.5M864.7,619.5v3.5M898.1,619.5v3.5M931.6,619.5v3.5M965.1,619.5v3.5M998.5,619.5v3.5M1032,619.5v3.5"/>
</g>
<path d="M739.5,553V542.5M736.5,542.5H742.5M789.5,511.9V496.5M786.5,496.5H792.5M797.5,530.8V511.5M794.5,511.5H800.5M806.5,553V524.5M803.5,524.5H809.5M814.5,558.1V548.5M811.5,548.5H817.5M831.5,492.9V468.5M828.5,468.5H834.5M839.5,553V542.5M836.5,542.5H842.5M889.5,511.7V496.5M886.5,496.5H892.5M898.5,530.9V511.5M895.5,511.5H901.5M906.5,553.6V544.5M903.5,544.5H909.5M914.5,557.5V549.5M911.5,549.5H917.5M931.5,492.4V468.5M928.5,468.5H934.5M939.5,553.1V542.5M936.5,542.5H942.5M990.5,511.7V496.5M987.5,496.5H993.5M998.5,530.9V511.5M995.5,511.5H1001.5M1006.5,553.6V544.5M1003.5,544.5H1009.5M1015.5,557.5V549.5M1012.5,549.5H1018.5M1032.5,492.4V468.5M1029.5,468.5H1035.5M739.5,474V453.5M736.5,453.5H742.5M747.5,538.4V510.5M744.5,510.5H750.5M755.5,549.7V522.5M752.5,522.5H758.5M789.5,528.8V518.5M786.5,518.5H792.5M831.5,528.3V507.5M828.5,507.5H834.5M881.5,580V564.5M878.5,564.5H884.5M889.5,541.2V524.5M886.5,524.5H892.5M931.5,548.6V534.5M928.5,534.5H934.5M998.5,559V547.5M995.5,547.5H1001.5M1006.5,577.3V569.5M1003.5,569.5H1009.5M1015.5,577.3V564.5M1012.5,564.5H1018.5" stroke="#000" stroke-width="1" fill="none" shape-rendering="crispEdges"/>
<polyline points="739.2,553 747.5,593.4 755.9,595.9 764.3,601.5 772.6,590.9 781,588.3 789.4,511.9 797.7,530.8 806.1,553 814.5,558.1 822.8,581.8 831.2,492.9 839.6,553 847.9,592.6 856.3,595.9 864.7,600.2 873,590.9 881.4,588.3 889.8,511.7 898.1,530.9 906.5,553.6 914.9,557.5 923.2,581.1 931.6,492.4 940,553.1 948.3,592.1 956.7,596.8 965.1,601 973.4,593 981.8,588.5 990.2,511.7 998.5,530.9 1006.9,553.6 1015.3,557.5 1023.6,581.1 1032,492.4" stroke="#000" stroke-width="1.1" fill="none"/>
<g fill="#000"><ellipse cx="739.2" cy="553" rx="3.95" ry="3.95"/><ellipse cx="747.5" cy="593.4" rx="3.95" ry="3.95"/><ellipse cx="755.9" cy="595.9" rx="3.95" ry="3.95"/><ellipse cx="764.3" cy="601.5" rx="3.95" ry="3.95"/><ellipse cx="772.6" cy="590.9" rx="3.95" ry="3.95"/><ellipse cx="781" cy="588.3" rx="3.95" ry="3.95"/><ellipse cx="789.4" cy="511.9" rx="3.95" ry="3.95"/><ellipse cx="797.7" cy="530.8" rx="3.95" ry="3.95"/><ellipse cx="806.1" cy="553" rx="3.95" ry="3.95"/><ellipse cx="814.5" cy="558.1" rx="3.95" ry="3.95"/><ellipse cx="822.8" cy="581.8" rx="3.95" ry="3.95"/><ellipse cx="831.2" cy="492.9" rx="3.95" ry="3.95"/><ellipse cx="839.6" cy="553" rx="3.95" ry="3.95"/><ellipse cx="847.9" cy="592.6" rx="3.95" ry="3.95"/><ellipse cx="856.3" cy="595.9" rx="3.95" ry="3.95"/><ellipse cx="864.7" cy="600.2" rx="3.95" ry="3.95"/><ellipse cx="873" cy="590.9" rx="3.95" ry="3.95"/><ellipse cx="881.4" cy="588.3" rx="3.95" ry="3.95"/><ellipse cx="889.8" cy="511.7" rx="3.95" ry="3.95"/><ellipse cx="898.1" cy="530.9" rx="3.95" ry="3.95"/><ellipse cx="906.5" cy="553.6" rx="3.95" ry="3.95"/><ellipse cx="914.9" cy="557.5" rx="3.95" ry="3.95"/><ellipse cx="923.2" cy="581.1" rx="3.95" ry="3.95"/><ellipse cx="931.6" cy="492.4" rx="3.95" ry="3.95"/><ellipse cx="940" cy="553.1" rx="3.95" ry="3.95"/><ellipse cx="948.3" cy="592.1" rx="3.95" ry="3.95"/><ellipse cx="956.7" cy="596.8" rx="3.95" ry="3.95"/><ellipse cx="965.1" cy="601" rx="3.95" ry="3.95"/><ellipse cx="973.4" cy="593" rx="3.95" ry="3.95"/><ellipse cx="981.8" cy="588.5" rx="3.95" ry="3.95"/><ellipse cx="990.2" cy="511.7" rx="3.95" ry="3.95"/><ellipse cx="998.5" cy="530.9" rx="3.95" ry="3.95"/><ellipse cx="1006.9" cy="553.6" rx="3.95" ry="3.95"/><ellipse cx="1015.3" cy="557.5" rx="3.95" ry="3.95"/><ellipse cx="1023.6" cy="581.1" rx="3.95" ry="3.95"/><ellipse cx="1032" cy="492.4" rx="3.95" ry="3.95"/></g>
<polyline points="739.2,474 747.5,538.4 755.9,549.7 764.3,593.9 772.6,599.5 781,591.4 789.4,528.8 797.7,545.4 806.1,543.9 814.5,571.7 822.8,580 831.2,528.3 839.6,573.2 847.9,596.9 856.3,596.9 864.7,599.5 873,596.9 881.4,580 889.8,541.2 898.1,566.4 906.5,582 914.9,586.5 923.2,565.5 931.6,548.6 940,585.6 948.3,603.9 956.7,595.9 965.1,596.8 973.4,593 981.8,588.5 990.2,537.7 998.5,559 1006.9,577.3 1015.3,577.3 1023.6,590 1032,517" stroke="#000" stroke-width="1.1" fill="none"/>
<g fill="#fff" stroke="#000" stroke-width="1.2"><ellipse cx="739.2" cy="474" rx="3.5" ry="3.5"/><ellipse cx="747.5" cy="538.4" rx="3.5" ry="3.5"/><ellipse cx="755.9" cy="549.7" rx="3.5" ry="3.5"/><ellipse cx="764.3" cy="593.9" rx="3.5" ry="3.5"/><ellipse cx="772.6" cy="599.5" rx="3.5" ry="3.5"/><ellipse cx="781" cy="591.4" rx="3.5" ry="3.5"/><ellipse cx="789.4" cy="528.8" rx="3.5" ry="3.5"/><ellipse cx="797.7" cy="545.4" rx="3.5" ry="3.5"/><ellipse cx="806.1" cy="543.9" rx="3.5" ry="3.5"/><ellipse cx="814.5" cy="571.7" rx="3.5" ry="3.5"/><ellipse cx="822.8" cy="580" rx="3.5" ry="3.5"/><ellipse cx="831.2" cy="528.3" rx="3.5" ry="3.5"/><ellipse cx="839.6" cy="573.2" rx="3.5" ry="3.5"/><ellipse cx="847.9" cy="596.9" rx="3.5" ry="3.5"/><ellipse cx="856.3" cy="596.9" rx="3.5" ry="3.5"/><ellipse cx="864.7" cy="599.5" rx="3.5" ry="3.5"/><ellipse cx="873" cy="596.9" rx="3.5" ry="3.5"/><ellipse cx="881.4" cy="580" rx="3.5" ry="3.5"/><ellipse cx="889.8" cy="541.2" rx="3.5" ry="3.5"/><ellipse cx="898.1" cy="566.4" rx="3.5" ry="3.5"/><ellipse cx="906.5" cy="582" rx="3.5" ry="3.5"/><ellipse cx="914.9" cy="586.5" rx="3.5" ry="3.5"/><ellipse cx="923.2" cy="565.5" rx="3.5" ry="3.5"/><ellipse cx="931.6" cy="548.6" rx="3.5" ry="3.5"/><ellipse cx="940" cy="585.6" rx="3.5" ry="3.5"/><ellipse cx="948.3" cy="603.9" rx="3.5" ry="3.5"/><ellipse cx="956.7" cy="595.9" rx="3.5" ry="3.5"/><ellipse cx="965.1" cy="596.8" rx="3.5" ry="3.5"/><ellipse cx="973.4" cy="593" rx="3.5" ry="3.5"/><ellipse cx="981.8" cy="588.5" rx="3.5" ry="3.5"/><ellipse cx="990.2" cy="537.7" rx="3.5" ry="3.5"/><ellipse cx="998.5" cy="559" rx="3.5" ry="3.5"/><ellipse cx="1006.9" cy="577.3" rx="3.5" ry="3.5"/><ellipse cx="1015.3" cy="577.3" rx="3.5" ry="3.5"/><ellipse cx="1023.6" cy="590" rx="3.5" ry="3.5"/><ellipse cx="1032" cy="517" rx="3.5" ry="3.5"/></g>
<text x="63.2" y="103.2" font-family="Liberation Serif" font-size="15" font-weight="bold" text-anchor="middle" letter-spacing="2">38</text>
<text x="63.2" y="133.8" font-family="Liberation Serif" font-size="15" font-weight="bold" text-anchor="middle" letter-spacing="2">37</text>
<text x="63.2" y="164.5" font-family="Liberation Serif" font-size="15" font-weight="bold" text-anchor="middle" letter-spacing="2">36</text>
<text x="63.2" y="195.1" font-family="Liberation Serif" font-size="15" font-weight="bold" text-anchor="middle" letter-spacing="2">35</text>
<text x="63.2" y="225.8" font-family="Liberation Serif" font-size="15" font-weight="bold" text-anchor="middle" letter-spacing="2">34</text>
<text x="63.2" y="256.4" font-family="Liberation Serif" font-size="15" font-weight="bold" text-anchor="middle" letter-spacing="2">33</text>
<text x="63.2" y="287" font-family="Liberation Serif" font-size="15" font-weight="bold" text-anchor="middle" letter-spacing="2">32</text>
<text x="63.2" y="317.7" font-family="Liberation Serif" font-size="15" font-weight="bold" text-anchor="middle" letter-spacing="2">31</text>
<text x="391.1" y="103.2" font-family="Liberation Serif" font-size="15" font-weight="bold" text-anchor="middle" letter-spacing="2">38</text>
<text x="391.1" y="133.8" font-family="Liberation Serif" font-size="15" font-weight="bold" text-anchor="middle" letter-spacing="2">37</text>
<text x="391.1" y="164.5" font-family="Liberation Serif" font-size="15" font-weight="bold" text-anchor="middle" letter-spacing="2">36</text>
<text x="391.1" y="195.1" font-family="Liberation Serif" font-size="15" font-weight="bold" text-anchor="middle" letter-spacing="2">35</text>
<text x="391.1" y="225.8" font-family="Liberation Serif" font-size="15" font-weight="bold" text-anchor="middle" letter-spacing="2">34</text>
<text x="391.1" y="256.4" font-family="Liberation Serif" font-size="15" font-weight="bold" text-anchor="middle" letter-spacing="2">33</text>
<text x="391.1" y="287" font-family="Liberation Serif" font-size="15" font-weight="bold" text-anchor="middle" letter-spacing="2">32</text>
<text x="391.1" y="317.7" font-family="Liberation Serif" font-size="15" font-weight="bold" text-anchor="middle" letter-spacing="2">31</text>
<text x="707.2" y="100.9" font-family="Liberation Serif" font-size="15.5" font-weight="normal" text-anchor="middle" stroke="#000" stroke-width="0.3">38</text>
<text x="707.2" y="132.1" font-family="Liberation Serif" font-size="15.5" font-weight="normal" text-anchor="middle" stroke="#000" stroke-width="0.3">37</text>
<text x="707.2" y="163.2" font-family="Liberation Serif" font-size="15.5" font-weight="normal" text-anchor="middle" stroke="#000" stroke-width="0.3">36</text>
<text x="707.2" y="194.4" font-family="Liberation Serif" font-size="15.5" font-weight="normal" text-anchor="middle" stroke="#000" stroke-width="0.3">35</text>
<text x="707.2" y="225.6" font-family="Liberation Serif" font-size="15.5" font-weight="normal" text-anchor="middle" stroke="#000" stroke-width="0.3">34</text>
<text x="707.2" y="256.8" font-family="Liberation Serif" font-size="15.5" font-weight="normal" text-anchor="middle" stroke="#000" stroke-width="0.3">33</text>
<text x="707.2" y="287.9" font-family="Liberation Serif" font-size="15.5" font-weight="normal" text-anchor="middle" stroke="#000" stroke-width="0.3">32</text>
<text x="707.2" y="319.1" font-family="Liberation Serif" font-size="15.5" font-weight="normal" text-anchor="middle" stroke="#000" stroke-width="0.3">31</text>
<text x="86.4" y="336.8" font-family="Liberation Serif" font-size="15" font-weight="bold" text-anchor="middle" letter-spacing="1.8">0</text>
<text x="115" y="336.8" font-family="Liberation Serif" font-size="15" font-weight="bold" text-anchor="middle" letter-spacing="1.8">8</text>
<text x="143.5" y="336.8" font-family="Liberation Serif" font-size="15" font-weight="bold" text-anchor="middle" letter-spacing="1.8">16</text>
<text x="172.1" y="336.8" font-family="Liberation Serif" font-size="15" font-weight="bold" text-anchor="middle" letter-spacing="1.8">24</text>
<text x="200.6" y="336.8" font-family="Liberation Serif" font-size="15" font-weight="bold" text-anchor="middle" letter-spacing="1.8">32</text>
<text x="229.2" y="336.8" font-family="Liberation Serif" font-size="15" font-weight="bold" text-anchor="middle" letter-spacing="1.8">40</text>
<text x="257.7" y="336.8" font-family="Liberation Serif" font-size="15" font-weight="bold" text-anchor="middle" letter-spacing="1.8">48</text>
<text x="286.3" y="336.8" font-family="Liberation Serif" font-size="15" font-weight="bold" text-anchor="middle" letter-spacing="1.8">56</text>
<text x="314.8" y="336.8" font-family="Liberation Serif" font-size="15" font-weight="bold" text-anchor="middle" letter-spacing="1.8">64</text>
<text x="343.4" y="336.8" font-family="Liberation Serif" font-size="15" font-weight="bold" text-anchor="middle" letter-spacing="1.8">72</text>
<text x="414.2" y="337.1" font-family="Liberation Serif" font-size="15" font-weight="bold" text-anchor="middle" letter-spacing="1.8">0</text>
<text x="442.7" y="337.1" font-family="Liberation Serif" font-size="15" font-weight="bold" text-anchor="middle" letter-spacing="1.8">8</text>
<text x="471.2" y="337.1" font-family="Liberation Serif" font-size="15" font-weight="bold" text-anchor="middle" letter-spacing="1.8">16</text>
<text x="499.6" y="337.1" font-family="Liberation Serif" font-size="15" font-weight="bold" text-anchor="middle" letter-spacing="1.8">24</text>
<text x="528.1" y="337.1" font-family="Liberation Serif" font-size="15" font-weight="bold" text-anchor="middle" letter-spacing="1.8">32</text>
<text x="556.6" y="337.1" font-family="Liberation Serif" font-size="15" font-weight="bold" text-anchor="middle" letter-spacing="1.8">40</text>
<text x="585.1" y="337.1" font-family="Liberation Serif" font-size="15" font-weight="bold" text-anchor="middle" letter-spacing="1.8">48</text>
<text x="613.5" y="337.1" font-family="Liberation Serif" font-size="15" font-weight="bold" text-anchor="middle" letter-spacing="1.8">56</text>
<text x="642" y="337.1" font-family="Liberation Serif" font-size="15" font-weight="bold" text-anchor="middle" letter-spacing="1.8">64</text>
<text x="670.5" y="337.1" font-family="Liberation Serif" font-size="15" font-weight="bold" text-anchor="middle" letter-spacing="1.8">72</text>
<text x="723.4" y="336.7" font-family="Liberation Serif" font-size="15" font-weight="bold" text-anchor="middle">0</text>
<text x="757" y="336.7" font-family="Liberation Serif" font-size="15" font-weight="bold" text-anchor="middle">8</text>
<text x="790.5" y="336.7" font-family="Liberation Serif" font-size="15" font-weight="bold" text-anchor="middle">16</text>
<text x="824.1" y="336.7" font-family="Liberation Serif" font-size="15" font-weight="bold" text-anchor="middle">24</text>
<text x="857.7" y="336.7" font-family="Liberation Serif" font-size="15" font-weight="bold" text-anchor="middle">32</text>
<text x="891.2" y="336.7" font-family="Liberation Serif" font-size="15" font-weight="bold" text-anchor="middle">40</text>
<text x="924.8" y="336.7" font-family="Liberation Serif" font-size="15" font-weight="bold" text-anchor="middle">48</text>
<text x="958.4" y="336.7" font-family="Liberation Serif" font-size="15" font-weight="bold" text-anchor="middle">56</text>
<text x="991.9" y="336.7" font-family="Liberation Serif" font-size="15" font-weight="bold" text-anchor="middle">64</text>
<text x="1025.5" y="336.7" font-family="Liberation Serif" font-size="15" font-weight="bold" text-anchor="middle">72</text>
<text x="59" y="407.3" font-family="Liberation Serif" font-size="15" font-weight="bold" text-anchor="end" letter-spacing="2.5">20</text>
<text x="59" y="450.5" font-family="Liberation Serif" font-size="15" font-weight="bold" text-anchor="end" letter-spacing="2.5">16</text>
<text x="59" y="493.8" font-family="Liberation Serif" font-size="15" font-weight="bold" text-anchor="end" letter-spacing="2.5">12</text>
<text x="56.5" y="537" font-family="Liberation Serif" font-size="15" font-weight="bold" text-anchor="end">8</text>
<text x="56.5" y="580.3" font-family="Liberation Serif" font-size="15" font-weight="bold" text-anchor="end">4</text>
<text x="56.5" y="623.5" font-family="Liberation Serif" font-size="15" font-weight="bold" text-anchor="end">0</text>
<text x="405" y="407.6" font-family="Liberation Serif" font-size="15" font-weight="bold" text-anchor="end" letter-spacing="4.5">20</text>
<text x="405" y="450.7" font-family="Liberation Serif" font-size="15" font-weight="bold" text-anchor="end" letter-spacing="4.5">16</text>
<text x="405" y="493.8" font-family="Liberation Serif" font-size="15" font-weight="bold" text-anchor="end" letter-spacing="4.5">12</text>
<text x="400.5" y="536.9" font-family="Liberation Serif" font-size="15" font-weight="bold" text-anchor="end">8</text>
<text x="400.5" y="580" font-family="Liberation Serif" font-size="15" font-weight="bold" text-anchor="end">4</text>
<text x="400.5" y="623.1" font-family="Liberation Serif" font-size="15" font-weight="bold" text-anchor="end">0</text>
<text x="719.2" y="405.7" font-family="Liberation Serif" font-size="15" font-weight="bold" text-anchor="end">20</text>
<text x="719.2" y="449.1" font-family="Liberation Serif" font-size="15" font-weight="bold" text-anchor="end">16</text>
<text x="719.2" y="492.5" font-family="Liberation Serif" font-size="15" font-weight="bold" text-anchor="end">12</text>
<text x="719.2" y="535.9" font-family="Liberation Serif" font-size="15" font-weight="bold" text-anchor="end">8</text>
<text x="719.2" y="579.3" font-family="Liberation Serif" font-size="15" font-weight="bold" text-anchor="end">4</text>
<text x="719.2" y="622.7" font-family="Liberation Serif" font-size="15" font-weight="bold" text-anchor="end">0</text>
<text x="73.4" y="642.2" font-family="Liberation Serif" font-size="15" font-weight="bold" text-anchor="middle" letter-spacing="1.8">0</text>
<text x="103.4" y="642.2" font-family="Liberation Serif" font-size="15" font-weight="bold" text-anchor="middle" letter-spacing="1.8">8</text>
<text x="133.4" y="642.2" font-family="Liberation Serif" font-size="15" font-weight="bold" text-anchor="middle" letter-spacing="1.8">16</text>
<text x="163.4" y="642.2" font-family="Liberation Serif" font-size="15" font-weight="bold" text-anchor="middle" letter-spacing="1.8">24</text>
<text x="193.4" y="642.2" font-family="Liberation Serif" font-size="15" font-weight="bold" text-anchor="middle" letter-spacing="1.8">32</text>
<text x="223.4" y="642.2" font-family="Liberation Serif" font-size="15" font-weight="bold" text-anchor="middle" letter-spacing="1.8">40</text>
<text x="253.4" y="642.2" font-family="Liberation Serif" font-size="15" font-weight="bold" text-anchor="middle" letter-spacing="1.8">48</text>
<text x="283.4" y="642.2" font-family="Liberation Serif" font-size="15" font-weight="bold" text-anchor="middle" letter-spacing="1.8">56</text>
<text x="313.4" y="642.2" font-family="Liberation Serif" font-size="15" font-weight="bold" text-anchor="middle" letter-spacing="1.8">64</text>
<text x="343.4" y="642.2" font-family="Liberation Serif" font-size="15" font-weight="bold" text-anchor="middle" letter-spacing="1.8">72</text>
<text x="416.5" y="642.2" font-family="Liberation Serif" font-size="15" font-weight="bold" text-anchor="middle" letter-spacing="1.8">0</text>
<text x="446.4" y="642.2" font-family="Liberation Serif" font-size="15" font-weight="bold" text-anchor="middle" letter-spacing="1.8">8</text>
<text x="476.4" y="642.2" font-family="Liberation Serif" font-size="15" font-weight="bold" text-anchor="middle" letter-spacing="1.8">16</text>
<text x="506.3" y="642.2" font-family="Liberation Serif" font-size="15" font-weight="bold" text-anchor="middle" letter-spacing="1.8">24</text>
<text x="536.2" y="642.2" font-family="Liberation Serif" font-size="15" font-weight="bold" text-anchor="middle" letter-spacing="1.8">32</text>
<text x="566.2" y="642.2" font-family="Liberation Serif" font-size="15" font-weight="bold" text-anchor="middle" letter-spacing="1.8">40</text>
<text x="596.1" y="642.2" font-family="Liberation Serif" font-size="15" font-weight="bold" text-anchor="middle" letter-spacing="1.8">48</text>
<text x="626" y="642.2" font-family="Liberation Serif" font-size="15" font-weight="bold" text-anchor="middle" letter-spacing="1.8">56</text>
<text x="656" y="642.2" font-family="Liberation Serif" font-size="15" font-weight="bold" text-anchor="middle" letter-spacing="1.8">64</text>
<text x="685.9" y="642.2" font-family="Liberation Serif" font-size="15" font-weight="bold" text-anchor="middle" letter-spacing="1.8">72</text>
<text x="730.3" y="642.2" font-family="Liberation Serif" font-size="15" font-weight="bold" text-anchor="middle">0</text>
<text x="763.8" y="642.2" font-family="Liberation Serif" font-size="15" font-weight="bold" text-anchor="middle">8</text>
<text x="797.2" y="642.2" font-family="Liberation Serif" font-size="15" font-weight="bold" text-anchor="middle">16</text>
<text x="830.7" y="642.2" font-family="Liberation Serif" font-size="15" font-weight="bold" text-anchor="middle">24</text>
<text x="864.2" y="642.2" font-family="Liberation Serif" font-size="15" font-weight="bold" text-anchor="middle">32</text>
<text x="897.6" y="642.2" font-family="Liberation Serif" font-size="15" font-weight="bold" text-anchor="middle">40</text>
<text x="931.1" y="642.2" font-family="Liberation Serif" font-size="15" font-weight="bold" text-anchor="middle">48</text>
<text x="964.6" y="642.2" font-family="Liberation Serif" font-size="15" font-weight="bold" text-anchor="middle">56</text>
<text x="998" y="642.2" font-family="Liberation Serif" font-size="15" font-weight="bold" text-anchor="middle">64</text>
<text x="1031.5" y="642.2" font-family="Liberation Serif" font-size="15" font-weight="bold" text-anchor="middle">72</text>
<text x="221.1" y="32.7" font-family="Liberation Serif" font-size="35" font-weight="bold" text-anchor="start">22°C</text>
<text x="525.1" y="36.7" font-family="Liberation Serif" font-size="35" font-weight="bold" text-anchor="start">26°C</text>
<text x="827.7" y="36.7" font-family="Liberation Serif" font-size="35" font-weight="bold" text-anchor="start">30°C</text>
<text x="57.3" y="80" font-family="Liberation Serif" font-size="23.5" font-weight="bold" text-anchor="start">a)</text>
<text x="384.3" y="81.2" font-family="Liberation Serif" font-size="23.5" font-weight="bold" text-anchor="start">c)</text>
<text x="700.2" y="80" font-family="Liberation Serif" font-size="23.5" font-weight="bold" text-anchor="start">e)</text>
<text x="42.5" y="386.6" font-family="Liberation Serif" font-size="23.5" font-weight="bold" text-anchor="start">b)</text>
<text x="387.5" y="386.6" font-family="Liberation Serif" font-size="23.5" font-weight="bold" text-anchor="start">d)</text>
<text x="708" y="383.4" font-family="Liberation Serif" font-size="23.5" font-weight="bold" text-anchor="start">f)</text>
<line x1="163.6" y1="86" x2="354.4" y2="86" stroke="#222" stroke-width="1.6"/>
<text x="248.9" y="87.3" font-family="Liberation Serif" font-size="27" font-weight="bold" text-anchor="start">*</text>
<line x1="464.3" y1="83.8" x2="675.7" y2="83.8" stroke="#222" stroke-width="1.6"/>
<text x="549.7" y="86.2" font-family="Liberation Serif" font-size="27" font-weight="bold" text-anchor="start">*</text>
<line x1="882.4" y1="113.1" x2="925.9" y2="113.1" stroke="#222" stroke-width="1.6"/>
<text x="894.9" y="111.2" font-family="Liberation Serif" font-size="27" font-weight="bold" text-anchor="start">*</text>
<line x1="213" y1="476.1" x2="352.3" y2="476.1" stroke="#222" stroke-width="1.6"/>
<text x="274.9" y="472.9" font-family="Liberation Serif" font-size="27" font-weight="bold" text-anchor="start">*</text>
<line x1="460.4" y1="424.3" x2="693" y2="424.3" stroke="#222" stroke-width="1.6"/>
<text x="563.8" y="421" font-family="Liberation Serif" font-size="27" font-weight="bold" text-anchor="start">*</text>
<line x1="888.5" y1="463.2" x2="932.7" y2="463.2" stroke="#222" stroke-width="1.6"/>
<text x="900.1" y="460.1" font-family="Liberation Serif" font-size="27" font-weight="bold" text-anchor="start">*</text>
<text transform="translate(35.3,205) rotate(-90)" font-family="Liberation Serif" font-size="17" font-weight="bold" text-anchor="middle">Temperature (°C)</text>
<text transform="translate(21.6,517.9) rotate(-90)" font-family="Liberation Serif" font-size="17.3" font-weight="bold" text-anchor="middle">Locomotor Activity</text>
<text transform="translate(43,515) rotate(-90)" font-family="Liberation Serif" font-size="16.5" font-weight="bold" text-anchor="middle">(Counts/min)</text>
<text x="489" y="682.8" font-family="Liberation Serif" font-size="20" font-weight="bold" text-anchor="start">Time (Hours)</text>
<line x1="811.9" y1="56.4" x2="845.6" y2="56.4" stroke="#111" stroke-width="1.4"/>
<circle cx="829" cy="56.2" r="4" fill="#000"/>
<line x1="811.9" y1="75.3" x2="845.6" y2="75.3" stroke="#111" stroke-width="1.4"/>
<ellipse cx="828.7" cy="75.1" rx="2.9" ry="3.6" fill="#fff" stroke="#000" stroke-width="1.2"/>
<text x="854.2" y="61.6" font-family="Liberation Sans" font-size="13.5" font-weight="bold" text-anchor="start" letter-spacing="0.8">Baseline</text>
<text x="854.2" y="79.6" font-family="Liberation Sans" font-size="13.5" font-weight="bold" text-anchor="start" letter-spacing="0.7">Influenza Infected</text>
</svg></body></html>
